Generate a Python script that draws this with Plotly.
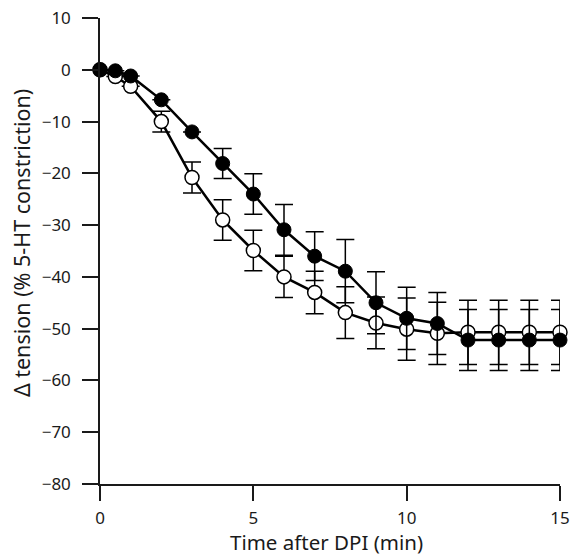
import plotly.graph_objects as go

time_min = [0, 0.5, 1, 2, 3, 4, 5, 6, 7, 8, 9, 10, 11, 12, 13, 14, 15]
filled_vals = [0, -0.2, -1.2, -5.8, -12.0, -18.1, -24.0, -30.9, -36.0, -38.9, -45.0, -48.0, -49.0, -52.2, -52.2, -52.2, -52.2]
filled_err = [0, 0, 0, 0, 0, 2.9, 3.9, 4.9, 4.7, 6.1, 6.0, 6.0, 6.0, 5.9, 5.9, 5.9, 5.9]
open_vals = [0, -1.3, -3.2, -10.0, -20.8, -29.0, -34.9, -40.0, -43.0, -46.9, -48.9, -50.1, -50.9, -50.7, -50.7, -50.7, -50.7]
open_err = [0, 0, 0, 2.0, 3.0, 3.9, 3.9, 4.0, 4.1, 5.0, 5.0, 6.0, 6.0, 6.2, 6.2, 6.2, 6.2]

x_ticks = [0, 5, 10, 15]
y_ticks = [10, 0, -10, -20, -30, -40, -50, -60, -70, -80]
y_labels = [str(v).replace("-", "\u2212") for v in y_ticks]
x_title = "Time after DPI (min)"
y_title = "\u0394 tension (% 5-HT constriction)"

FONT = "Noto Sans"
INK = "#1a1a1a"

fig = go.Figure()
fig.add_trace(go.Scatter(
    x=time_min, y=open_vals, mode="lines+markers",
    line=dict(color="black", width=2.5),
    marker=dict(size=14, color="white", line=dict(color="black", width=1.5)),
    error_y=dict(type="data", array=open_err, visible=True, color="black", thickness=1.5, width=9),
    cliponaxis=False, showlegend=False,
))
fig.add_trace(go.Scatter(
    x=time_min, y=filled_vals, mode="lines+markers",
    line=dict(color="black", width=2.5),
    marker=dict(size=14, color="black", line=dict(color="black", width=1)),
    error_y=dict(type="data", array=filled_err, visible=True, color="black", thickness=1.5, width=9),
    cliponaxis=False, showlegend=False,
))

fig.update_layout(
    width=570, height=556,
    margin=dict(l=100, r=10, t=18, b=72),
    paper_bgcolor="white", plot_bgcolor="white",
    font=dict(family=FONT, size=17, color=INK),
    xaxis=dict(
        range=[0, 15], tickvals=x_ticks, ticks="outside", ticklen=15, tickwidth=1.5,
        tickcolor=INK, showline=True, linecolor=INK, linewidth=1.5,
        showgrid=False, zeroline=False, automargin=False, ticklabelstandoff=3,
        tickfont=dict(size=17),
    ),
    yaxis=dict(
        range=[-80, 10], tickvals=y_ticks, ticktext=y_labels, ticks="outside", ticklen=16,
        tickwidth=1.5, tickcolor=INK, showline=True, linecolor=INK, linewidth=1.5,
        showgrid=False, zeroline=False, automargin=False, ticklabelstandoff=8,
        tickfont=dict(size=17),
    ),
    annotations=[
        dict(text=x_title, xref="paper", yref="paper", x=0.493, y=-0.1245,
             xanchor="center", yanchor="middle", showarrow=False,
             font=dict(size=20.5, family=FONT, color=INK)),
        dict(text=y_title, xref="paper", yref="paper", x=-0.1717, y=0.517,
             xanchor="center", yanchor="middle", textangle=-90, showarrow=False,
             font=dict(size=21.5, family=FONT, color=INK)),
    ],
)

fig.write_html(
    "out.html",
    config={"displayModeBar": False},
    post_script="document.body.style.margin='0';document.body.style.overflow='hidden';",
)
